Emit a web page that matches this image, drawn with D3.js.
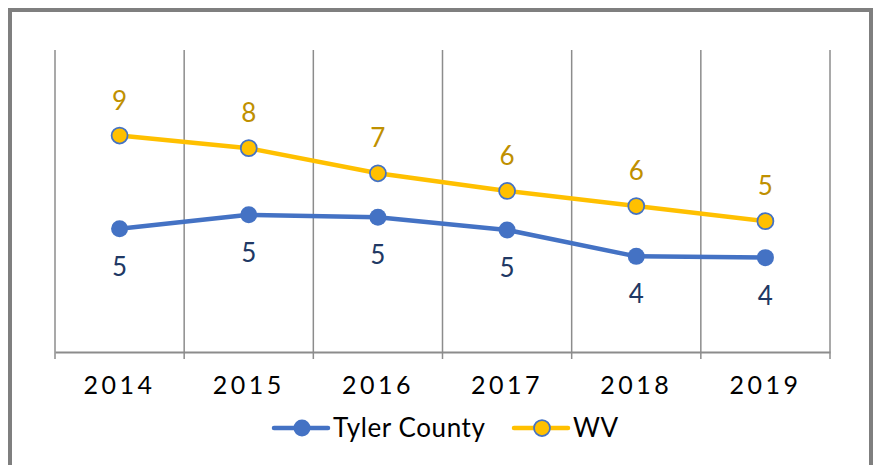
<!DOCTYPE html>
<html>
<head>
<meta charset="utf-8">
<script src="https://cdn.jsdelivr.net/npm/d3@7"></script>
<style>
  html, body { margin: 0; padding: 0; background: #fff; }
  svg { display: block; font-family: Lato, "Open Sans", sans-serif; }
</style>
</head>
<body>
<div id="chart"></div>
<script>
const years = ['2014', '2015', '2016', '2017', '2018', '2019'];
const tylerCounty = [4.9, 5.45, 5.35, 4.85, 3.8, 3.75];
const wv = [8.6, 8.1, 7.1, 6.4, 5.8, 5.2];
const seriesNames = ['Tyler County', 'WV'];

const width = 874;
const height = 465;

const svg = d3.select('#chart')
  .append('svg')
  .attr('width', width)
  .attr('height', height);

// outer frame (bottom edge is off-canvas)
svg.append('rect')
  .attr('x', 10)
  .attr('y', 10)
  .attr('width', 861)
  .attr('height', 470)
  .attr('fill', 'none')
  .attr('stroke', '#7f7f7f')
  .attr('stroke-width', 4);

let x = d3.scaleBand()
  .domain(years)
  .range([55, 830])
  .padding(0);

let y = d3.scaleLinear()
  .domain([0, 12])
  .range([352, 50]);

// vertical gridlines on category boundaries
let bounds = years.map((d) => x(d)).concat([x(years[years.length - 1]) + x.bandwidth()]);

svg.append('g')
  .selectAll('line')
  .data(bounds)
  .enter()
  .append('line')
  .attr('x1', (d) => d)
  .attr('x2', (d) => d)
  .attr('y1', y(12))
  .attr('y2', y(0))
  .attr('stroke', '#8c8c8c')
  .attr('stroke-width', 1.5);

// x axis
let xAxis = svg.append('g')
  .attr('transform', `translate(0, ${y(0)})`)
  .call(d3.axisBottom(x).tickSize(0).tickPadding(24));

xAxis.select('.domain')
  .attr('stroke', '#8c8c8c')
  .attr('stroke-width', 2);

xAxis.selectAll('text')
  .attr('font-size', 25)
  .attr('fill', '#000')
  .attr('letter-spacing', 3.5)
  .attr('font-family', 'Lato, sans-serif');

xAxis.selectAll('.tick-mark')
  .data(bounds)
  .enter()
  .append('line')
  .attr('x1', (d) => d)
  .attr('x2', (d) => d)
  .attr('y1', 0)
  .attr('y2', 7)
  .attr('stroke', '#8c8c8c')
  .attr('stroke-width', 1.5);

const cx = (i) => x(years[i]) + x.bandwidth() / 2;

let line = d3.line()
  .x((d, i) => cx(i))
  .y((d) => y(d));

let series = [
  { name: seriesNames[0], values: tylerCounty, color: '#4472c4', fill: '#4472c4', stroke: 'none', label: '#203864', dy: 47 },
  { name: seriesNames[1], values: wv, color: '#ffc000', fill: '#ffc000', stroke: '#4472c4', label: '#bf9000', dy: -26 }
];

series.forEach((s) => {
  let g = svg.append('g');

  g.append('path')
    .datum(s.values)
    .attr('d', line)
    .attr('fill', 'none')
    .attr('stroke', s.color)
    .attr('stroke-width', 4.5)
    .attr('stroke-linejoin', 'round');

  g.selectAll('circle')
    .data(s.values)
    .enter()
    .append('circle')
    .attr('cx', (d, i) => cx(i))
    .attr('cy', (d) => y(d))
    .attr('r', s.stroke === 'none' ? 8.5 : 8)
    .attr('fill', s.fill)
    .attr('stroke', s.stroke)
    .attr('stroke-width', 1.75);

  g.selectAll('text')
    .data(s.values)
    .enter()
    .append('text')
    .attr('x', (d, i) => cx(i))
    .attr('y', (d) => y(d) + s.dy)
    .attr('text-anchor', 'middle')
    .attr('font-size', 26)
    .attr('fill', s.label)
    .text((d) => d3.format('.0f')(d));
});

// legend
let legendItems = [
  { name: seriesNames[0], x: 274, s: series[0] },
  { name: seriesNames[1], x: 514, s: series[1] }
];

let legend = svg.append('g')
  .attr('transform', 'translate(0, 428)');

legendItems.forEach((item) => {
  let g = legend.append('g').attr('transform', `translate(${item.x}, 0)`);

  g.append('line')
    .attr('x1', 0)
    .attr('x2', 54)
    .attr('stroke', item.s.color)
    .attr('stroke-width', 4.5)
    .attr('stroke-linecap', 'round');

  g.append('circle')
    .attr('cx', 28)
    .attr('r', item.s.stroke === 'none' ? 8.5 : 8)
    .attr('fill', item.s.fill)
    .attr('stroke', item.s.stroke)
    .attr('stroke-width', 1.75);

  g.append('text')
    .attr('x', 59)
    .attr('y', 9)
    .attr('font-size', 26)
    .attr('letter-spacing', 0.6)
    .attr('fill', '#000')
    .text(item.name);
});
</script>
</body>
</html>
